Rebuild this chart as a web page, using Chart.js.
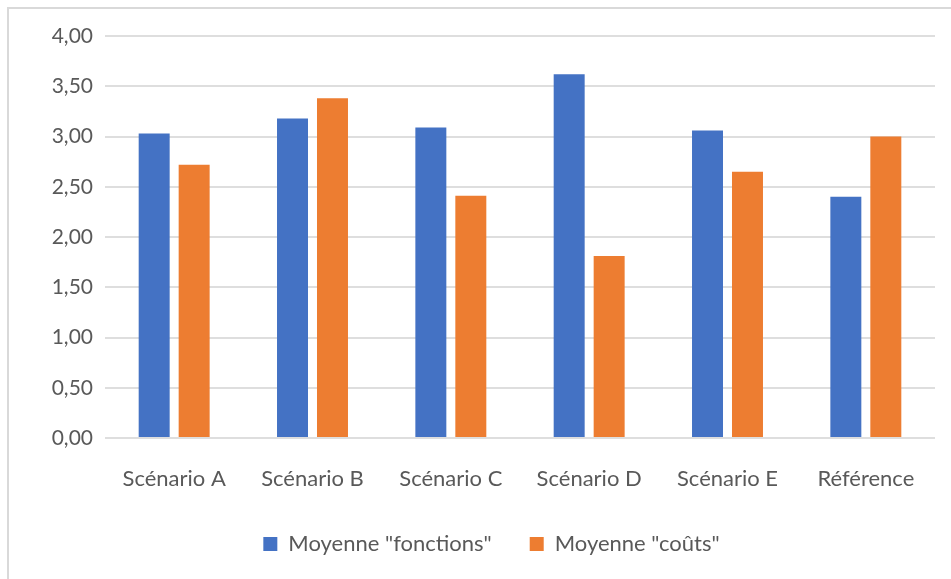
<!DOCTYPE html>
<html>
<head>
<meta charset="utf-8">
<script src="https://cdn.jsdelivr.net/npm/chart.js@4.4.1/dist/chart.umd.min.js"></script>
<style>
  html, body { margin: 0; padding: 0; background: #ffffff; }
  #wrap { position: absolute; left: 0; top: 0; width: 951px; height: 579px; }
</style>
</head>
<body>
<div id="wrap"><canvas id="c" width="951" height="579"></canvas></div>
<script>
const categories = ["Scénario A", "Scénario B", "Scénario C", "Scénario D", "Scénario E", "Référence"];
const seriesNames = ['Moyenne "fonctions"', 'Moyenne "coûts"'];
const fonctions = [3.03, 3.18, 3.09, 3.62, 3.06, 2.40];
const couts = [2.72, 3.38, 2.41, 1.81, 2.65, 3.00];
const yTicks = [0, 0.5, 1, 1.5, 2, 2.5, 3, 3.5, 4];

const FONT = "Lato";
const TXT = "#595959";

const frame = {
  id: 'frame',
  beforeDraw(chart) {
    const ctx = chart.ctx;
    ctx.save();
    ctx.fillStyle = '#ffffff';
    ctx.fillRect(0, 0, chart.width, chart.height);
    ctx.strokeStyle = '#d9d9d9';
    ctx.lineWidth = 2;
    ctx.strokeRect(8, 8, chart.width + 20, chart.height + 20);
    ctx.restore();
  }
};

new Chart(document.getElementById('c'), {
  type: 'bar',
  data: {
    labels: categories,
    datasets: [
      { label: seriesNames[0], data: fonctions, backgroundColor: '#4472C4', categoryPercentage: 0.578, barPercentage: 0.775 },
      { label: seriesNames[1], data: couts, backgroundColor: '#ED7D31', categoryPercentage: 0.578, barPercentage: 0.775 }
    ]
  },
  options: {
    responsive: false,
    animation: false,
    devicePixelRatio: 1,
    layout: { padding: { top: 36, right: 16, left: 48, bottom: 14 } },
    plugins: {
      tooltip: { enabled: false },
      legend: {
        position: 'bottom',
        labels: {
          color: TXT,
          font: { family: FONT, size: 22 },
          boxWidth: 14,
          boxHeight: 14,
          padding: 38
        }
      }
    },
    scales: {
      x: {
        grid: { display: false, drawTicks: false },
        border: { display: false },
        ticks: { color: TXT, font: { family: FONT, size: 22 }, padding: 28, maxRotation: 0 },
        afterFit(scale) { scale.height = 57; }
      },
      y: {
        min: 0,
        max: 4,
        afterBuildTicks(scale) { scale.ticks = yTicks.map(v => ({ value: v })); },
        grid: { color: '#dedede', lineWidth: 2, drawTicks: false },
        border: { display: false },
        ticks: {
          color: TXT,
          font: { family: FONT, size: 21 },
          padding: 12,
          callback: (v) => Number(v).toFixed(2).replace('.', ',')
        },
        afterFit(scale) { scale.width = 57; }
      }
    }
  },
  plugins: [frame]
});
</script>
</body>
</html>
